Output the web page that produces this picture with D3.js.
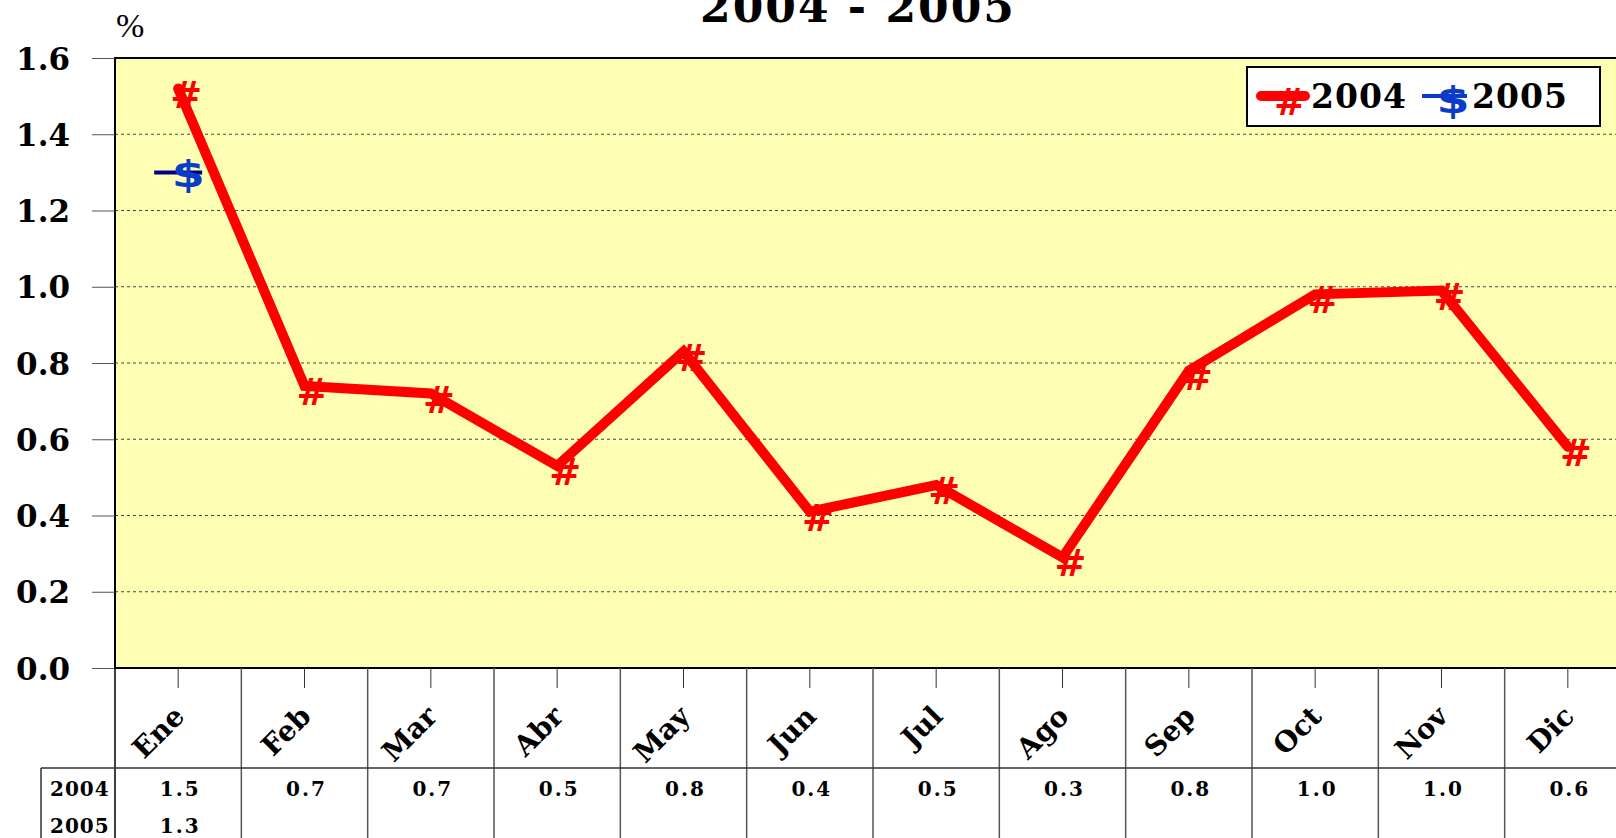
<!DOCTYPE html>
<html><head><meta charset="utf-8">
<script src="https://cdn.jsdelivr.net/npm/d3@7"></script>
<style>html,body{margin:0;padding:0;background:#fff;overflow:hidden}</style>
</head><body><svg id="c" width="1616" height="838"></svg>
<script>
const months = ["Ene","Feb","Mar","Abr","May","Jun","Jul","Ago","Sep","Oct","Nov","Dic"];
const values2004 = [1.52,0.74,0.72,0.53,0.83,0.41,0.48,0.29,0.78,0.98,0.99,0.58];
const values2005 = [1.3];
const yTicks = [0,0.2,0.4,0.6,0.8,1.0,1.2,1.4,1.6];
const seriesNames = ["2004","2005"];
const titleText = "2004 - 2005";
const yUnit = "%";

const svg = d3.select("#c");
const L = 115, R = 1631, T = 58, B = 668;
const x = d3.scaleBand().domain(months).range([L, R]);
const y = d3.scaleLinear().domain([0, 1.6]).range([B, T]);
const cx = m => x(m) + x.bandwidth()/2;
const serif = "'DejaVu Serif', serif";
const fmt = d3.format(".1f");

// title
svg.append("text").attr("x", 858).attr("y", 22).attr("text-anchor","middle")
  .attr("font-family", serif).attr("font-weight","bold").attr("font-size",44)
  .attr("letter-spacing",2).text(titleText);
svg.append("text").attr("x", 116).attr("y", 37).attr("font-family", "'Liberation Serif', serif")
  .attr("font-size",34).text(yUnit);

// plot area
svg.append("rect").attr("x",L).attr("y",T).attr("width",R-L).attr("height",B-T)
  .attr("fill","#FFFFB4");
svg.append("g").selectAll("line").data(yTicks.filter(d=>d>0 && d<1.6)).join("line")
  .attr("x1",L).attr("x2",R).attr("y1",d=>y(d)).attr("y2",d=>y(d))
  .attr("stroke","#444").attr("stroke-width",1).attr("stroke-dasharray","3,3");
svg.append("rect").attr("x",L).attr("y",T).attr("width",R-L).attr("height",B-T)
  .attr("fill","none").attr("stroke","#000").attr("stroke-width",2);

// y axis
const yAxis = d3.axisLeft(y).tickValues(yTicks).tickFormat(fmt).tickSize(23).tickPadding(22);
const gy = svg.append("g").attr("transform",`translate(${L},0)`).call(yAxis);
gy.select(".domain").remove();
gy.selectAll(".tick line").attr("stroke","#555");
gy.selectAll(".tick text").attr("font-family",serif).attr("font-weight","bold")
  .attr("font-size",31).attr("fill","#000").attr("dy","0.36em");

// x axis / table
const bounds = months.map(m => x(m)).concat([R]);
svg.append("g").selectAll("line").data(bounds).join("line")
  .attr("x1",d=>d).attr("x2",d=>d).attr("y1",B).attr("y2",838)
  .attr("stroke",(d,i)=> i===0 ? "#000" : "#555").attr("stroke-width",1.5);
svg.append("g").selectAll("line").data(months).join("line")
  .attr("x1",d=>cx(d)).attr("x2",d=>cx(d)).attr("y1",B).attr("y2",688)
  .attr("stroke","#333").attr("stroke-width",1);
svg.append("line").attr("x1",41).attr("x2",R).attr("y1",768).attr("y2",768)
  .attr("stroke","#333").attr("stroke-width",1.5);
svg.append("line").attr("x1",41).attr("x2",41).attr("y1",768).attr("y2",838)
  .attr("stroke","#333").attr("stroke-width",1.5);

svg.append("g").selectAll("text").data(months).join("text")
  .attr("transform",d=>`translate(${cx(d)+8},718) rotate(-45)`)
  .attr("text-anchor","end").attr("font-family",serif).attr("font-weight","bold")
  .attr("font-size",28).text(d=>d);

const rowY = [796, 833];
svg.append("g").selectAll("text").data(seriesNames).join("text")
  .attr("x",50).attr("y",(d,i)=>rowY[i]).attr("font-family",serif).attr("font-weight","bold")
  .attr("font-size",20).attr("letter-spacing",1).text(d=>d);
[values2004, values2005].forEach((vals,si)=>{
  svg.append("g").selectAll("text").data(vals).join("text")
    .attr("x",(d,i)=>cx(months[i])+2).attr("y",rowY[si]).attr("text-anchor","middle")
    .attr("font-family",serif).attr("font-weight","bold").attr("font-size",20)
    .attr("letter-spacing",2).text(d=>fmt(d));
});

// series 2004
const line = d3.line().x((d,i)=>cx(months[i])).y(d=>y(d));
svg.append("path").datum(values2004).attr("d",line).attr("fill","none")
  .attr("stroke","#FF0000").attr("stroke-width",10).attr("stroke-linejoin","miter")
  .attr("stroke-linecap","round");
svg.append("g").selectAll("text").data(values2004).join("text")
  .attr("x",(d,i)=>cx(months[i])+8).attr("y",d=>y(d)+6).attr("text-anchor","middle")
  .attr("dominant-baseline","central").attr("font-family","'DejaVu Sans'").attr("font-weight","bold")
  .attr("font-size",38).attr("fill","#FF0000").text("#");

// series 2005
values2005.forEach((v,i)=>{
  svg.append("line").attr("x1",cx(months[i])-24).attr("x2",cx(months[i])+24)
    .attr("y1",y(v)).attr("y2",y(v)).attr("stroke","#000080").attr("stroke-width",4);
});
svg.append("g").selectAll("text").data(values2005).join("text")
  .attr("transform",(d,i)=>`translate(${cx(months[i])+10},${y(d)+1}) scale(1.25,1)`)
  .attr("text-anchor","middle")
  .attr("dominant-baseline","central").attr("font-family","'DejaVu Sans'").attr("font-weight","bold")
  .attr("font-size",38).attr("fill","#0A3CC8").text("$");

// legend
const lg = svg.append("g");
lg.append("rect").attr("x",1247).attr("y",67).attr("width",353).attr("height",59)
  .attr("fill","#fff").attr("stroke","#000").attr("stroke-width",2);
lg.append("line").attr("x1",1261).attr("x2",1305).attr("y1",96).attr("y2",96)
  .attr("stroke","#FF0000").attr("stroke-width",10).attr("stroke-linecap","round");
lg.append("text").attr("x",1290).attr("y",102).attr("text-anchor","middle").attr("dominant-baseline","central")
  .attr("font-family","'DejaVu Sans'").attr("font-weight","bold").attr("font-size",38).attr("fill","#FF0000").text("#");
lg.append("text").attr("x",1311).attr("y",108).attr("font-family",serif).attr("font-weight","bold")
  .attr("font-size",33).attr("letter-spacing",1).text(seriesNames[0]);
lg.append("line").attr("x1",1422).attr("x2",1467).attr("y1",96).attr("y2",96)
  .attr("stroke","#0A3CC8").attr("stroke-width",4);
lg.append("text").attr("transform","translate(1453,100) scale(1.25,1)").attr("text-anchor","middle").attr("dominant-baseline","central")
  .attr("font-family","'DejaVu Sans'").attr("font-weight","bold").attr("font-size",38).attr("fill","#0A3CC8").text("$");
lg.append("text").attr("x",1472).attr("y",108).attr("font-family",serif).attr("font-weight","bold")
  .attr("font-size",33).attr("letter-spacing",1).text(seriesNames[1]);
</script></body></html>
